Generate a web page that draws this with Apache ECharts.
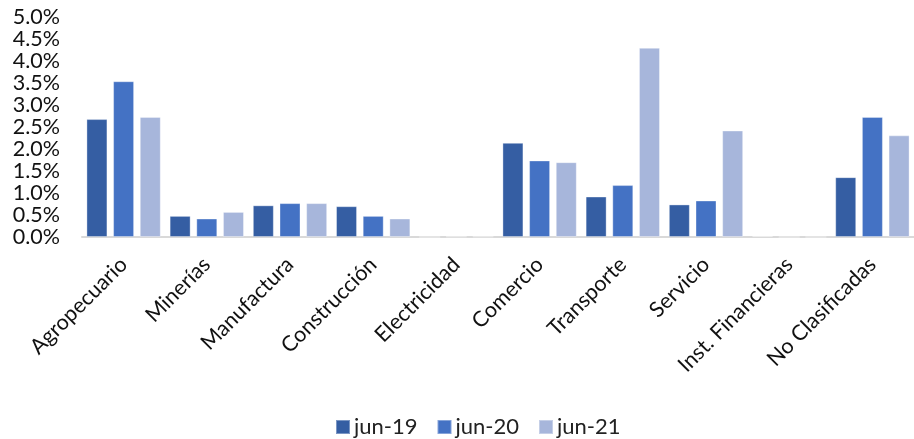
<!DOCTYPE html>
<html>
<head>
<meta charset="utf-8">
<script src="https://cdn.jsdelivr.net/npm/echarts@6/dist/echarts.min.js"></script>
<style>
  html, body { margin: 0; padding: 0; background: #fff; }
  #chart { width: 914px; height: 439px; }
</style>
</head>
<body>
<div id="chart"></div>
<script>
// Sectors on the category axis
const categories = ['Agropecuario', 'Minerías', 'Manufactura', 'Construcción', 'Electricidad',
  'Comercio', 'Transporte', 'Servicio', 'Inst. Financieras', 'No Clasificadas'];

// Shares in percent for each period
const jun19 = [2.68, 0.48, 0.72, 0.70, 0.00, 2.14, 0.92, 0.74, 0.02, 1.36];
const jun20 = [3.54, 0.42, 0.77, 0.48, 0.01, 1.74, 1.18, 0.83, 0.00, 2.73];
const jun21 = [2.73, 0.57, 0.77, 0.42, 0.01, 1.70, 4.30, 2.42, 0.00, 2.31];

const seriesNames = ['jun-19', 'jun-20', 'jun-21'];
const colors = ['#355ea3', '#4472c4', '#a7b6db'];

const FONT = 'Lato, "Open Sans", sans-serif';

const chart = echarts.init(document.getElementById('chart'), null, { renderer: 'canvas' });

function bar(name, data, color) {
  return {
    name: name,
    type: 'bar',
    data: data,
    barWidth: 21,
    barGap: '27%',
    itemStyle: { color: color, borderColor: 'rgba(255,255,255,0.35)', borderWidth: 1 },
    emphasis: { disabled: true }
  };
}

chart.setOption({
  animation: false,
  color: colors,
  grid: { left: 82, right: 0, top: 17, bottom: 202, containLabel: false },
  legend: {
    top: 411,
    left: 330,
    itemWidth: 14,
    itemHeight: 14,
    itemGap: 19,
    icon: 'rect',
    textStyle: { fontFamily: FONT, fontSize: 22, color: '#222', padding: [0, 0, 0, -1] },
    data: seriesNames
  },
  xAxis: {
    type: 'category',
    data: categories,
    axisLine: { show: true, lineStyle: { color: '#d9d9d9', width: 2 } },
    axisTick: { show: false },
    axisLabel: {
      interval: 0,
      rotate: 45,
      margin: 24,
      fontFamily: FONT,
      fontSize: 21.5,
      color: '#111'
    }
  },
  yAxis: {
    type: 'value',
    min: 0,
    max: 5,
    interval: 0.5,
    splitLine: { show: false },
    axisLine: { show: false },
    axisTick: { show: false },
    axisLabel: {
      margin: 22,
      fontFamily: FONT,
      fontSize: 21.5,
      color: '#111',
      formatter: v => v.toFixed(1) + '%'
    }
  },
  series: [
    bar(seriesNames[0], jun19, colors[0]),
    bar(seriesNames[1], jun20, colors[1]),
    bar(seriesNames[2], jun21, colors[2])
  ]
});
</script>
</body>
</html>
